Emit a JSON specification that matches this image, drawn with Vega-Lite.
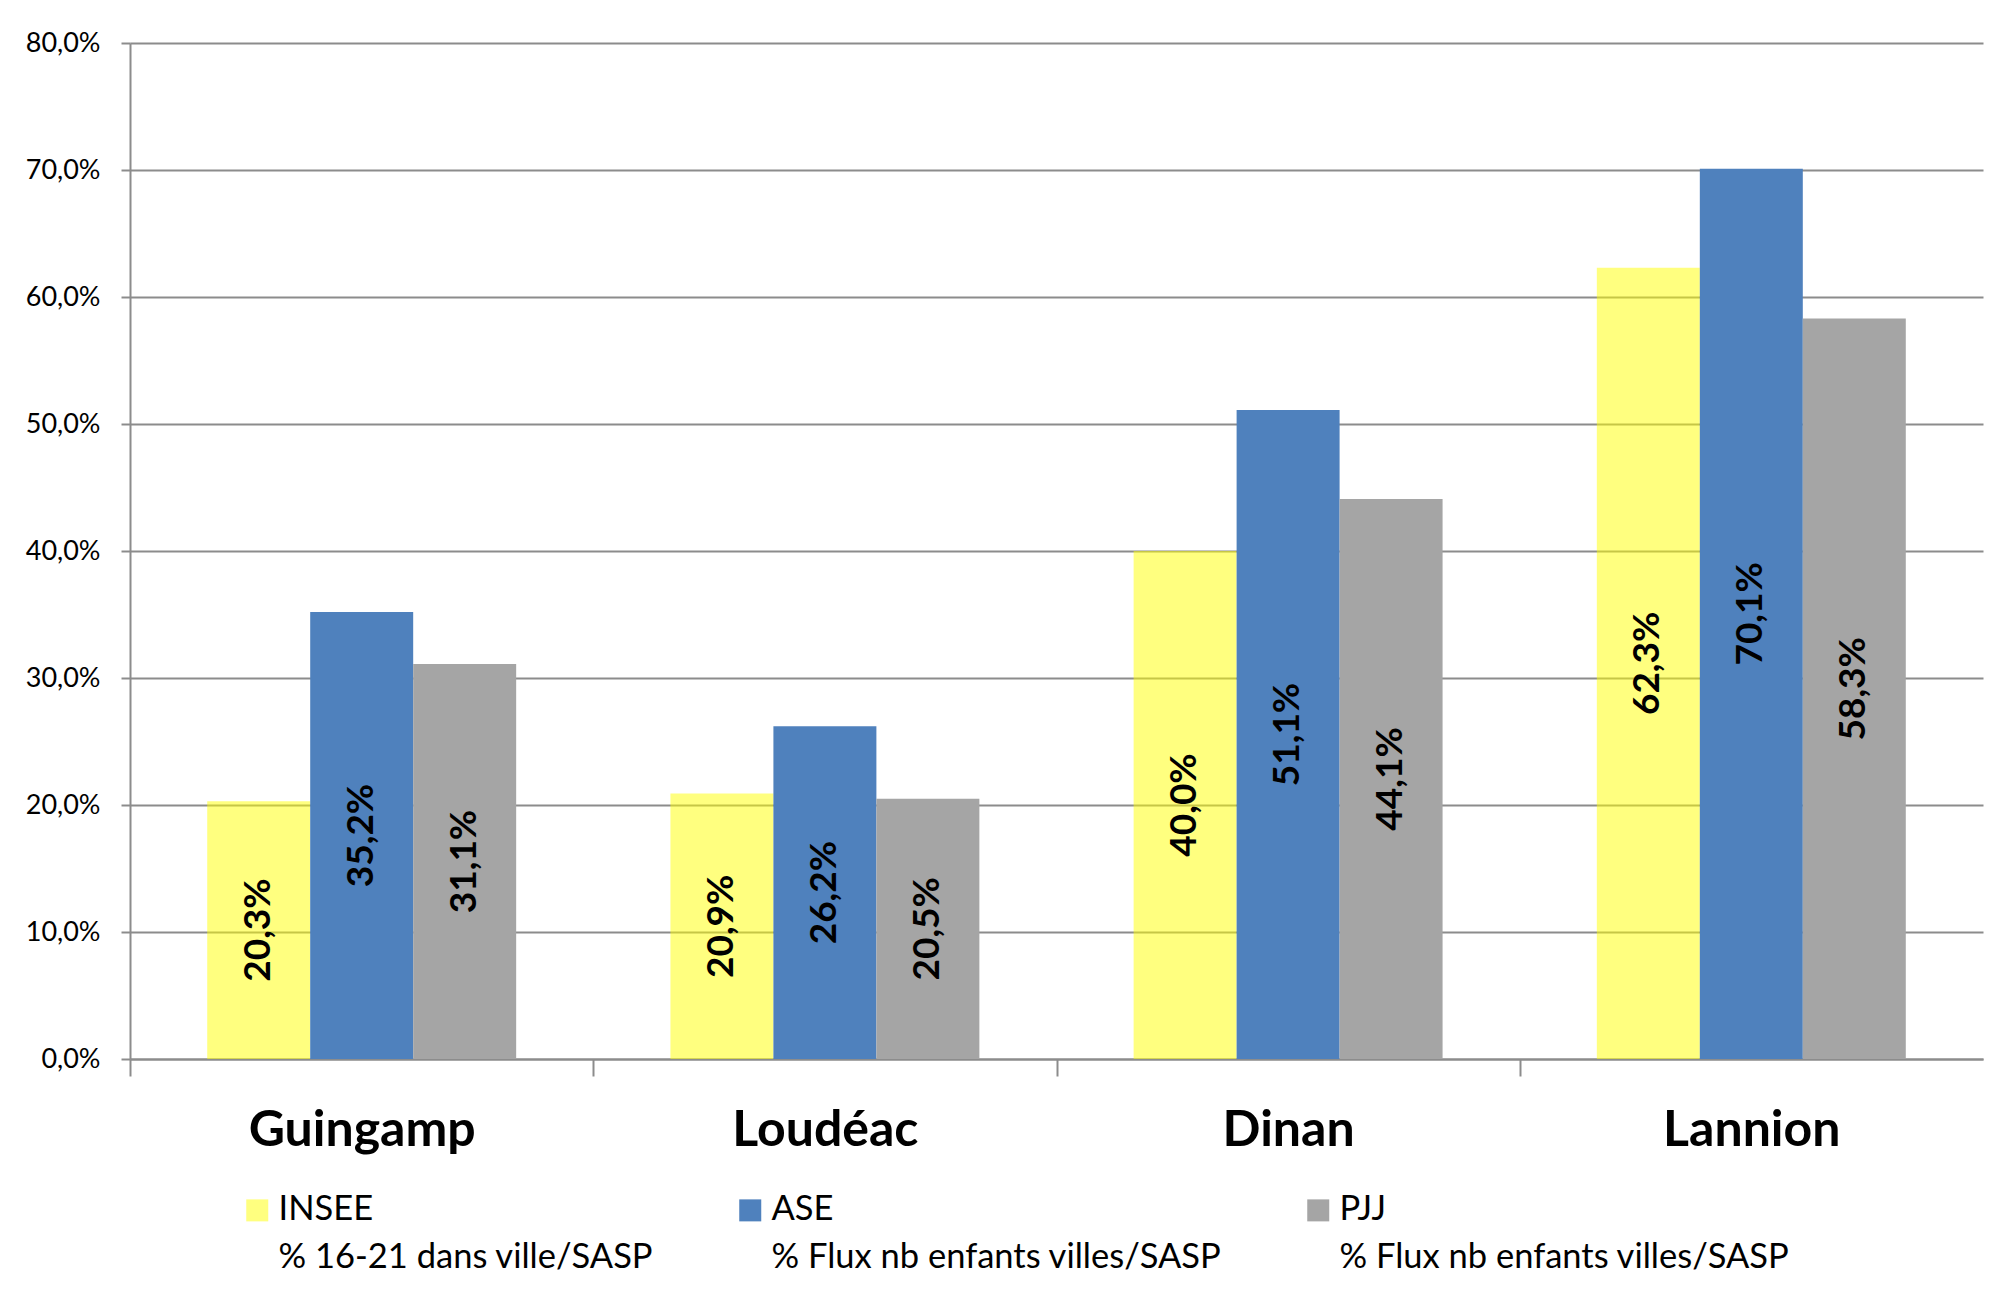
{
  "$schema": "https://vega.github.io/schema/vega-lite/v6.json",
  "width": 1853,
  "height": 1016,
  "autosize": {"type": "none"},
  "padding": {"left": 130, "top": 43, "right": 22, "bottom": 243},
  "background": "white",
  "config": {
    "locale": {"number": {"decimal": ",", "thousands": " ", "grouping": [3], "currency": ["", " €"]}},
    "view": {"stroke": null},
    "font": "Lato"
  },
  "data": {
    "values": [
      {"ville": "Guingamp", "serie": "INSEE", "v": 0.203},
      {"ville": "Guingamp", "serie": "ASE", "v": 0.352},
      {"ville": "Guingamp", "serie": "PJJ", "v": 0.311},
      {"ville": "Loudéac", "serie": "INSEE", "v": 0.209},
      {"ville": "Loudéac", "serie": "ASE", "v": 0.262},
      {"ville": "Loudéac", "serie": "PJJ", "v": 0.205},
      {"ville": "Dinan", "serie": "INSEE", "v": 0.400},
      {"ville": "Dinan", "serie": "ASE", "v": 0.511},
      {"ville": "Dinan", "serie": "PJJ", "v": 0.441},
      {"ville": "Lannion", "serie": "INSEE", "v": 0.623},
      {"ville": "Lannion", "serie": "ASE", "v": 0.701},
      {"ville": "Lannion", "serie": "PJJ", "v": 0.583}
    ]
  },
  "encoding": {
    "x": {
      "field": "ville", "type": "nominal",
      "sort": ["Guingamp", "Loudéac", "Dinan", "Lannion"],
      "scale": {"paddingInner": 0.333, "paddingOuter": 0.1667},
      "axis": {
        "title": null, "labelAngle": 0, "tickOffset": -231.6, "labelOffset": 231.6,
        "tickSize": 17, "tickColor": "#8c8c8c", "tickWidth": 2,
        "domainColor": "#8c8c8c", "domainWidth": 2,
        "labelFont": "Lato", "labelFontWeight": "bold", "labelFontSize": 50,
        "labelColor": "black", "labelPadding": 29, "labelLimit": 1000, "grid": false
      }
    },
    "xOffset": {"field": "serie", "type": "nominal", "sort": ["INSEE", "ASE", "PJJ"]}
  },
  "layer": [
    {
      "mark": {"type": "bar"},
      "encoding": {
        "y": {
          "field": "v", "type": "quantitative",
          "scale": {"domain": [0, 0.8]},
          "axis": {
            "title": null, "format": ".1%", "values": [0, 0.1, 0.2, 0.3, 0.4, 0.5, 0.6, 0.7, 0.8],
            "grid": true, "gridColor": "#8c8c8c", "gridWidth": 2,
            "domainColor": "#8c8c8c", "domainWidth": 2,
            "tickColor": "#8c8c8c", "tickWidth": 2, "tickSize": 9,
            "labelFont": "Lato", "labelFontSize": 27, "labelColor": "black", "labelPadding": 21
          }
        },
        "color": {
          "field": "serie", "type": "nominal",
          "scale": {"domain": ["INSEE", "ASE", "PJJ"], "range": ["#FFFF00", "#4F81BD", "#A5A5A5"]},
          "legend": {
            "title": null, "orient": "none", "legendX": 110, "legendY": 1150,
            "direction": "horizontal", "columns": 3, "columnPadding": 79,
            "symbolType": "square", "symbolSize": 484, "symbolStrokeWidth": 0,
            "labelFont": "Lato", "labelFontSize": 34.5, "labelColor": "black",
            "labelOffset": 4, "labelLimit": 1000, "labelBaseline": "middle",
            "labelExpr": "datum.label == 'INSEE' ? ['INSEE', '% 16-21 dans ville/SASP'] : [datum.label, '% Flux nb enfants villes/SASP']",
            "encode": {"labels": {"update": {"lineHeight": {"value": 48}}}}
          }
        },
        "opacity": {
          "field": "serie", "type": "nominal",
          "scale": {"type": "ordinal", "domain": ["INSEE", "ASE", "PJJ"], "range": [0.5, 1, 1]}
        }
      }
    },
    {
      "transform": [{"calculate": "datum.v / 2", "as": "mid"}],
      "mark": {"type": "text", "angle": 270, "fontWeight": "bold", "fontSize": 37, "font": "Lato", "color": "black"},
      "encoding": {
        "y": {"field": "mid", "type": "quantitative"},
        "text": {"field": "v", "type": "quantitative", "format": ".1%"}
      }
    }
  ]
}
